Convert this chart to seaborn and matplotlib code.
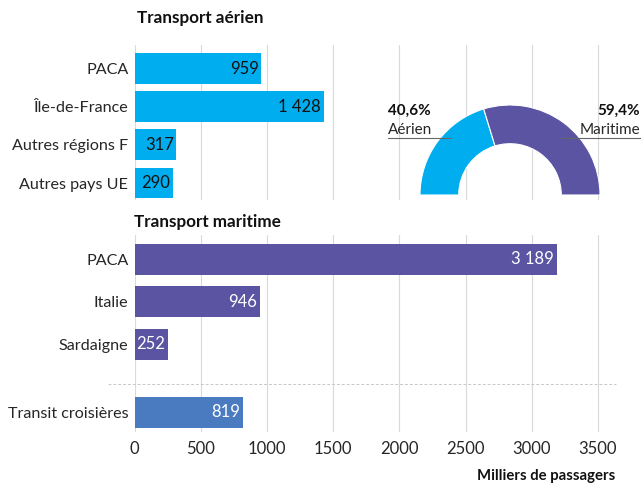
import matplotlib
matplotlib.use("Agg")
import matplotlib.pyplot as plt
from matplotlib.lines import Line2D
import seaborn as sns

# ---- data ----
air_cats = ["PACA", "Île-de-France", "Autres régions F", "Autres pays UE"]
air_vals = [959, 1428, 317, 290]
sea_cats = ["PACA", "Italie", "Sardaigne"]
sea_vals = [3189, 946, 252]
cruise_cats = ["Transit croisières"]
cruise_vals = [819]
x_ticks = [0, 500, 1000, 1500, 2000, 2500, 3000, 3500]
donut_labels = ["Aérien", "Maritime"]

BLUE = "#00AEEF"
PURPLE = "#5A54A3"
STEEL = "#4A7AC0"
GRID = "#D9D9D9"
TXT = "#262626"

sns.set_theme(style="white")
plt.rcParams["font.family"] = ["Lato", "DejaVu Sans"]

W, H = 641, 483
fig = plt.figure(figsize=(W / 100, H / 100), dpi=100)


def px_axes(x0, y0, x1, y1):
    return fig.add_axes([x0 / W, 1 - y1 / H, (x1 - x0) / W, (y1 - y0) / H])


def fmt(v):
    return f"{v:,}".replace(",", " ")


XMAX = (616 - 134.5) / 0.1324


def bar_panel(ax, cats, vals, color, width, ylim, label_color, show_x=False):
    sns.barplot(x=vals, y=cats, color=color, saturation=1, width=width,
                linewidth=0, ax=ax, orient="h")
    ax.set_xlim(0, XMAX)
    ax.set_ylim(*ylim)
    ax.set_xticks(x_ticks)
    ax.grid(axis="x", color=GRID, lw=0.8)
    ax.grid(axis="y", visible=False)
    ax.set_axisbelow(True)
    for s in ax.spines.values():
        s.set_visible(False)
    ax.set_xlabel("")
    ax.set_ylabel("")
    ax.set_facecolor("none")
    ax.tick_params(axis="y", length=0, pad=4.5, labelsize=11.6, labelcolor=TXT)
    if show_x:
        ax.tick_params(axis="x", length=0, pad=6.5, labelsize=12, labelcolor=TXT)
        ax.set_xticklabels([str(t) for t in x_ticks])
    else:
        ax.tick_params(axis="x", length=0, labelbottom=False)
    for patch, v in zip(ax.patches, vals):
        ax.annotate(fmt(v), (patch.get_width(), patch.get_y() + patch.get_height() / 2),
                    xytext=(-2, 0), textcoords="offset points", ha="right",
                    va="center", fontsize=12, color=label_color)


ax_air = px_axes(134.5, 45, 616, 200)
bar_panel(ax_air, air_cats, air_vals, BLUE, 0.81, (3.445, -0.616), "#111111")

ax_sea = px_axes(134.5, 235, 616, 384)
bar_panel(ax_sea, sea_cats, sea_vals, PURPLE, 0.73, (2.93, -0.576), "white")

ax_cr = px_axes(134.5, 384, 616, 432)
bar_panel(ax_cr, cruise_cats, cruise_vals, STEEL, 0.73, (0.459, -0.67), "white", show_x=True)

# dashed separator
fig.add_artist(Line2D([108 / W, 616 / W], [1 - 384 / H] * 2, color="#C8C8C8",
                      lw=0.7, ls=(0, (3, 2))))

# titles
fig.text(137 / W, 1 - 18 / H, "Transport aérien", fontsize=12.3, fontweight="bold",
         color="#111111", va="center", ha="left")
fig.text(134 / W, 1 - 222 / H, "Transport maritime", fontsize=12.3, fontweight="bold",
         color="#111111", va="center", ha="left")
fig.text(615 / W, 1 - 476 / H, "Milliers de passagers", fontsize=10.7, fontweight="bold",
         color="#111111", va="center", ha="right")

# donut
air_total = sum(air_vals)
sea_total = sum(sea_vals)
tot = air_total + sea_total
pct_air = 100 * air_total / tot
pct_sea = 100 * sea_total / tot

ax_d = px_axes(420, 105, 600, 195)
wedges, _ = ax_d.pie([pct_air, pct_sea, 100], colors=[BLUE, PURPLE, "white"],
                     startangle=180, counterclock=False, radius=1,
                     wedgeprops=dict(width=0.43, edgecolor="white", linewidth=0.8))
wedges[2].set_visible(False)
ax_d.set_xlim(-1, 1)
ax_d.set_ylim(0, 1)
ax_d.set_aspect("equal")
ax_d.axis("off")


def pct_txt(p):
    return f"{p:.1f}%".replace(".", ",")


fig.text(388 / W, 1 - 111 / H, pct_txt(pct_air), fontsize=11, fontweight="bold",
         color="#111111", ha="left", va="center")
fig.text(388 / W, 1 - 130 / H, donut_labels[0], fontsize=11, color=TXT,
         ha="left", va="center")
fig.text(640 / W, 1 - 111 / H, pct_txt(pct_sea), fontsize=11, fontweight="bold",
         color="#111111", ha="right", va="center")
fig.text(640 / W, 1 - 130 / H, donut_labels[1], fontsize=11, color=TXT,
         ha="right", va="center")
fig.add_artist(Line2D([388 / W, 451 / W], [1 - 137.5 / H] * 2, color="#666666", lw=0.8))
fig.add_artist(Line2D([561 / W, 641 / W], [1 - 137.5 / H] * 2, color="#666666", lw=0.8))

fig.savefig("out.png", dpi=100, facecolor="white")
